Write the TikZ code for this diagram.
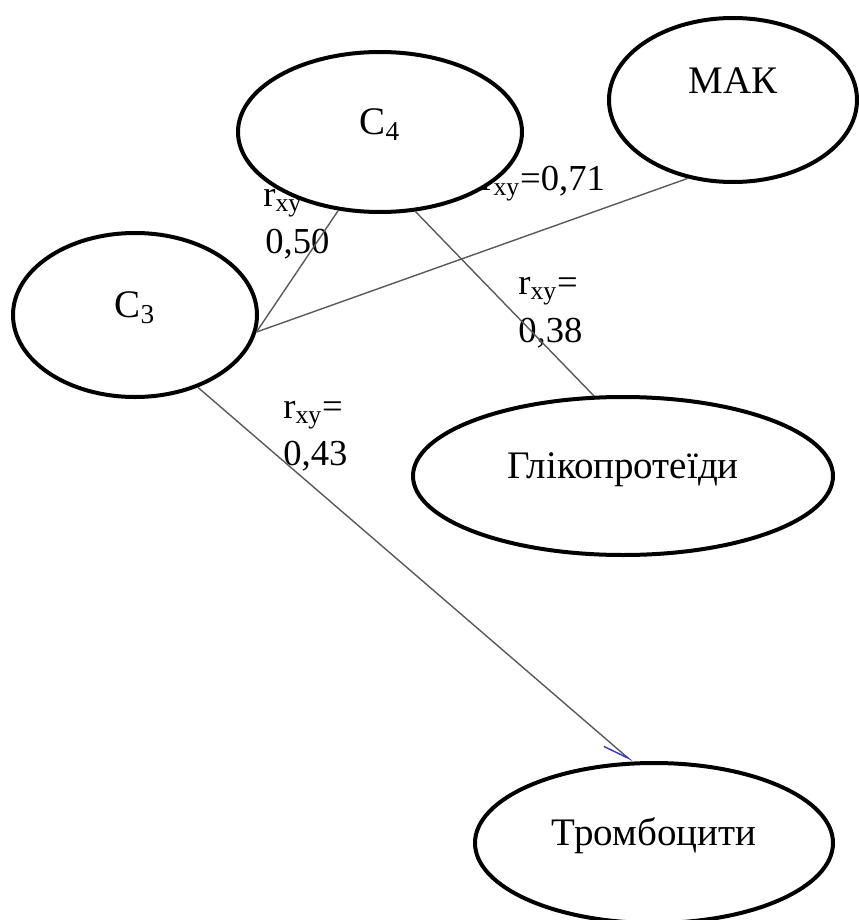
\documentclass[tikz,border=0pt]{standalone}
\usepackage{fontspec}
\setmainfont{Liberation Serif}
\usetikzlibrary{shapes.geometric,arrows.meta}
\tikzstyle{el}=[ellipse,draw=black,line width=2pt,fill=white,inner sep=0pt,text height=6pt,text depth=4pt,font=\fontsize{19.5}{23}\selectfont]
\tikzstyle{lnk}=[draw=black!65,line width=0.7pt]
\tikzstyle{lbl}=[anchor=base west,inner sep=0pt]

\begin{document}
\begin{tikzpicture}[x=0.5pt,y=-0.5pt,font=\fontsize{18.3}{22}\selectfont]
\useasboundingbox (0,0) rectangle (858,920);
% labels (partly under the ellipses)
\node[lbl] (r50a) at (263,206) {r\textsubscript{xy}=};
\node[lbl] (r50b) at (265,253) {0,50};
\node[lbl] (r71) at (481,190) {r\textsubscript{xy}=0,71};
\node[lbl] (r38a) at (518,294) {r\textsubscript{xy}=};
\node[lbl] (r38b) at (518,342) {0,38};
\node[lbl] (r43a) at (283,418) {r\textsubscript{xy}=};
\node[lbl] (r43b) at (283,465) {0,43};
% ellipses
\node[el,minimum width=142pt,minimum height=80pt] (c4) at (380,132) {C\textsubscript{4}};
\node[el,minimum width=124pt,minimum height=82pt] (mak) at (733,100) {\raisebox{4pt}{МАК}};
\node[el,minimum width=122pt,minimum height=82pt] (c3) at (135,315) {C\textsubscript{3}};
\node[el,minimum width=210pt,minimum height=79pt] (glik) at (623,476) {Глікопротеїди};
\node[el,minimum width=179pt,minimum height=80pt] (tromb) at (654,843) {Тромбоцити};
% links
\draw[lnk] (c3.-8) -- (c4.242);
\draw[lnk] (c3.-8) -- (mak.240);
\draw[lnk] (c4.294) -- (glik.110);
\draw[lnk,-{Straight Barb[right,length=13pt,width=7pt,color=blue!60!gray]}] (c3.-49) -- (tromb.105);
\end{tikzpicture}
\end{document}
